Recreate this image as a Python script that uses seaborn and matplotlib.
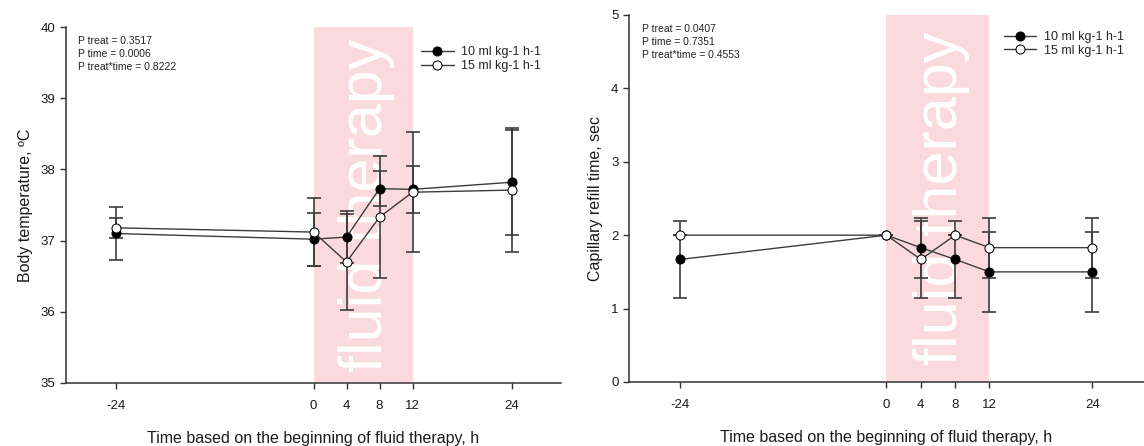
import matplotlib
matplotlib.use("Agg")
import matplotlib.pyplot as plt
import seaborn as sns
import pandas as pd

# Sampling times relative to the start of fluid therapy (h)
time_h = [-24, 0, 4, 8, 12, 24]
x_ticks = [-24, 0, 4, 8, 12, 24]

# Body temperature (mean, SD)
temp_10 = [37.10, 37.02, 37.05, 37.73, 37.72, 37.82]
temp_10_sd = [0.37, 0.37, 0.36, 0.25, 0.33, 0.74]
temp_15 = [37.18, 37.12, 36.70, 37.33, 37.68, 37.71]
temp_15_sd = [0.14, 0.48, 0.68, 0.86, 0.84, 0.87]

# Capillary refill time (mean, SD)
crt_10 = [1.67, 2.00, 1.83, 1.67, 1.50, 1.50]
crt_10_sd = [0.52, 0.00, 0.41, 0.52, 0.55, 0.55]
crt_15 = [2.00, 2.00, 1.67, 2.00, 1.83, 1.83]
crt_15_sd = [0.00, 0.00, 0.52, 0.00, 0.41, 0.41]

group_names = ["10 ml kg-1 h-1", "15 ml kg-1 h-1"]
stats_temp = ["P treat = 0.3517", "P time = 0.0006", "P treat*time = 0.8222"]
stats_crt = ["P treat = 0.0407", "P time = 0.7351", "P treat*time = 0.4553"]

therapy_start, therapy_end = 0, 12

sns.set_theme(style="ticks")
plt.rcParams["font.family"] = ["Liberation Sans", "DejaVu Sans"]
plt.rcParams["axes.unicode_minus"] = False

fig = plt.figure(figsize=(11.44, 4.46), dpi=100)
ax1 = fig.add_axes([0.0577, 0.1413, 0.4327, 0.798])
ax2 = fig.add_axes([0.5498, 0.1435, 0.4502, 0.823])

line_col = "#3c3c3c"


def draw_panel(ax, m10, s10, m15, s15, ylim, yticks, ylabel, stats, legend_anchor):
    ax.axvspan(therapy_start, therapy_end, color="#fbdadd", lw=0, zorder=0)
    ax.text(6.4, 0.5, "fluid therapy", rotation=90, color="white",
            fontsize=44, ha="center", va="center",
            transform=ax.get_xaxis_transform(), zorder=1)

    for m, s in ((m10, s10), (m15, s15)):
        ax.errorbar(time_h, m, yerr=s, fmt="none", ecolor=line_col,
                    elinewidth=1.2, capsize=5, capthick=1.2, zorder=2)

    df = pd.DataFrame({
        "time": time_h * 2,
        "value": list(m10) + list(m15),
        "group": [group_names[0]] * len(time_h) + [group_names[1]] * len(time_h),
    })
    sns.lineplot(data=df, x="time", y="value", hue="group", style="group",
                 palette=[line_col, line_col], markers=["o", "o"], dashes=False,
                 estimator=None, lw=1.0, ms=6.5, ax=ax, zorder=3, legend=False)
    lines = ax.get_lines()[-2:]
    lines[0].set_markerfacecolor("black")
    lines[0].set_markeredgecolor("black")
    lines[1].set_markerfacecolor("white")
    lines[1].set_markeredgecolor("black")
    for ln, name in zip(lines, group_names):
        ln.set_label(name)

    ax.legend(handles=lines, loc="upper right", bbox_to_anchor=legend_anchor,
              frameon=False, fontsize=9, handlelength=2.6, handletextpad=0.6,
              labelspacing=0.15, borderaxespad=0)

    ax.text(0.025, 0.975, "\n".join(stats), transform=ax.transAxes,
            fontsize=7.5, ha="left", va="top", linespacing=1.35, color="#222222")

    ax.set_xlim(-30, 30)
    ax.set_ylim(*ylim)
    ax.set_xticks(x_ticks)
    ax.set_yticks(yticks)
    ax.set_xlabel("Time based on the beginning of fluid therapy, h",
                  fontsize=11.5, labelpad=14, color="#1a1a1a")
    ax.set_ylabel(ylabel, fontsize=11.5, labelpad=6, color="#1a1a1a")
    ax.tick_params(labelsize=9.5, length=4, width=1, colors="#333333",
                   labelcolor="#1a1a1a")
    ax.tick_params(axis="x", pad=8)
    sns.despine(ax=ax)
    for side in ("left", "bottom"):
        ax.spines[side].set_color("#333333")
        ax.spines[side].set_linewidth(1.1)


draw_panel(ax1, temp_10, temp_10_sd, temp_15, temp_15_sd, (35, 40),
           [35, 36, 37, 38, 39, 40], "Body temperature, ºC", stats_temp,
           (0.97, 0.96))
draw_panel(ax2, crt_10, crt_10_sd, crt_15, crt_15_sd, (0, 5),
           [0, 1, 2, 3, 4, 5], "Capillary refill time, sec", stats_crt,
           (0.97, 0.97))

fig.savefig("out.png", dpi=100)
